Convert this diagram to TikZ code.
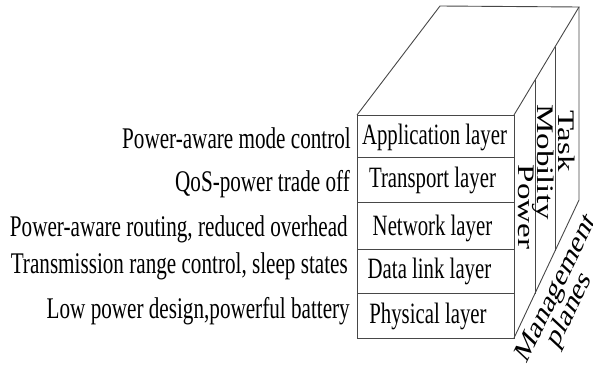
\documentclass[tikz,border=0pt]{standalone}
\usepackage{fontspec}
\setmainfont{Liberation Serif}[FakeStretch=0.705]
\newfontfamily\rotfont{Liberation Serif}
\begin{document}
\begin{tikzpicture}[x=1pt,y=-1pt,
  edge/.style={draw=black!72, line width=0.9pt},
  lbl/.style={font=\fontsize{30}{30}\selectfont, inner sep=0pt, anchor=base east},
  lay/.style={font=\fontsize{29.5}{29.5}\selectfont, inner sep=0pt, anchor=base},
  vlab/.style={font=\rotfont\fontsize{33}{33}\selectfont, inner sep=0pt, anchor=base, cm={0,-1,0.72,0,(0,0)}},
  mlab/.style={font=\rotfont\fontsize{33}{33}\selectfont, inner sep=0pt, anchor=center, cm={0.4026,0.829,-0.597,0.559,(0,0)}}]
\useasboundingbox (0,0) rectangle (593,364);
% cube corners
\coordinate (FTL) at (357,115);
\coordinate (FTR) at (514,115);
\coordinate (FBL) at (357,338);
\coordinate (FBR) at (514,338);
\coordinate (BTL) at (440,6);
\coordinate (BTR) at (579,7);
\coordinate (BBR) at (579,200);
% dividers
\coordinate (D1L) at (357,157); \coordinate (D1R) at (514,157);
\coordinate (D2L) at (357,202); \coordinate (D2R) at (514,202);
\coordinate (D3L) at (357,249); \coordinate (D3R) at (514,249);
\coordinate (D4L) at (357,293); \coordinate (D4R) at (514,293);
% plane separators
\coordinate (P1T) at (535,80);  \coordinate (P1B) at (535,293.5);
\coordinate (P2T) at (555,47);  \coordinate (P2B) at (555,251);
\draw[edge] (FTL) rectangle (FBR);
\draw[edge] (D1L) -- (D1R);
\draw[edge] (D2L) -- (D2R);
\draw[edge] (D3L) -- (D3R);
\draw[edge] (D4L) -- (D4R);
\draw[edge] (FTL) -- (BTL) -- (BTR) -- (FTR);
\draw[edge] (BTR) -- (BBR) -- (FBR);
\draw[edge] (P1T) -- (P1B);
\draw[edge] (P2T) -- (P2B);
% layer labels
\node[lay] (app) at (434.5,144) {Application layer};
\node[lay] (tra) at (432.5,187) {Transport layer};
\node[lay] (net) at (432.5,235) {Network layer};
\node[lay] (dat) at (429.5,278) {Data link layer};
\node[lay] (phy) at (428,323) {Physical layer};
% left labels
\node[lbl] (l1) at (351,148) {Power-aware mode control};
\node[lbl] (l2) at (350,191) {QoS-power trade off};
\node[lbl] (l3) at (348,236) {Power-aware routing, reduced overhead};
\node[lbl] (l4) at (348,273) {Transmission range control, sleep states};
\node[lbl] (l5) at (350,318) {Low power design,powerful battery};
% planes
\node[vlab] (task) at (558,141) {Task};
\node[vlab] (mob) at (537,162) {Mobility};
\node[vlab] (pow) at (518.5,207) {Power};
\node[mlab] (man) at (557,289) {Management};
\node[mlab] (pla) at (570,310) {planes};
\end{tikzpicture}
\end{document}
